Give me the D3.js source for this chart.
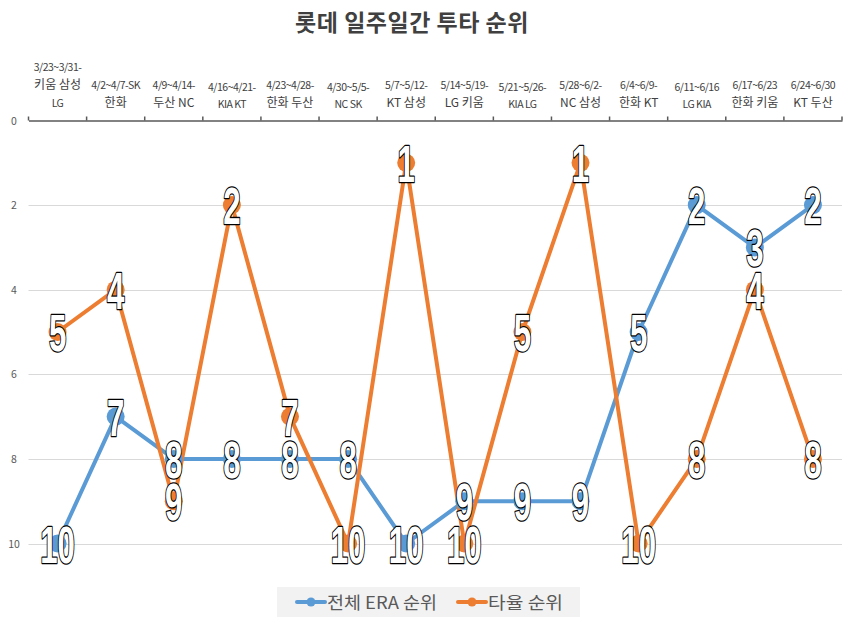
<!DOCTYPE html>
<html>
<head>
<meta charset="utf-8">
<script src="https://cdn.jsdelivr.net/npm/d3@7"></script>
<style>
  html, body { margin: 0; padding: 0; background: #fff; }
  svg { display: block; }
</style>
</head>
<body>
<svg id="chart" width="850" height="622"></svg>
<script>
const title = "롯데 일주일간 투타 순위";
const categories = [
  ["3/23~3/31-", "키움 삼성", "LG"],
  ["4/2~4/7-SK", "한화"],
  ["4/9~4/14-", "두산 NC"],
  ["4/16~4/21-", "KIA KT"],
  ["4/23~4/28-", "한화 두산"],
  ["4/30~5/5-", "NC SK"],
  ["5/7~5/12-", "KT 삼성"],
  ["5/14~5/19-", "LG 키움"],
  ["5/21~5/26-", "KIA LG"],
  ["5/28~6/2-", "NC 삼성"],
  ["6/4~6/9-", "한화 KT"],
  ["6/11~6/16", "LG KIA"],
  ["6/17~6/23", "한화 키움"],
  ["6/24~6/30", "KT 두산"]
];
const seriesNames = ["전체 ERA 순위", "타율 순위"];
const eraRank = [10, 7, 8, 8, 8, 8, 10, 9, 9, 9, 5, 2, 3, 2];
const battingRank = [5, 4, 9, 2, 7, 10, 1, 10, 5, 1, 10, 8, 4, 8];
const yTicks = [0, 2, 4, 6, 8, 10];
const colors = ["#5B9BD5", "#ED7D31"];

(function () {
const svg = d3.select("#chart");
const pLeft = 28.5, pRight = 842, pTop = 120.5, pBottom = 543.5;

const x = d3.scaleBand().domain(d3.range(categories.length)).range([pLeft, pRight]).paddingInner(0).paddingOuter(0);
const y = d3.scaleLinear().domain([0, 10]).range([pTop, pBottom]);

// title
svg.append("text")
  .attr("x", 412).attr("y", 31)
  .attr("text-anchor", "middle")
  .attr("font-family", "'Noto Sans CJK KR', sans-serif")
  .attr("font-weight", "bold")
  .attr("font-size", 23)
  .attr("letter-spacing", 0.5)
  .attr("fill", "#404040")
  .text(title);

// gridlines
svg.append("g").selectAll("line")
  .data(yTicks.filter(d => d !== 0))
  .join("line")
  .attr("x1", pLeft).attr("x2", pRight)
  .attr("y1", d => Math.round(y(d)) + 0.5).attr("y2", d => Math.round(y(d)) + 0.5)
  .attr("stroke", "#d9d9d9").attr("stroke-width", 1);

// y labels
svg.append("g").selectAll("text")
  .data(yTicks)
  .join("text")
  .attr("x", 14).attr("y", d => y(d) + 4)
  .attr("text-anchor", "middle")
  .attr("font-family", "'Noto Sans CJK KR', sans-serif")
  .attr("font-size", 10.5)
  .attr("fill", "#595959")
  .text(d => d);

// top axis
const axis = d3.axisTop(x).tickSize(0).tickFormat("");
const ag = svg.append("g").attr("transform", `translate(0,${pTop})`).call(axis);
ag.select(".domain").attr("stroke", "#595959").attr("stroke-width", 1.5);
const bounds = d3.range(categories.length + 1).map(i => i < categories.length ? x(i) : pRight);
ag.selectAll(".bt").data(bounds).join("line")
  .attr("class", "bt")
  .attr("x1", d => d).attr("x2", d => d)
  .attr("y1", 0).attr("y2", -4)
  .attr("stroke", "#595959").attr("stroke-width", 1.5);

// category labels
const hasHangul = s => /[\uAC00-\uD7A3]/.test(s);
const cg = svg.append("g");
categories.forEach((lines, i) => {
  const cx = x(i) + x.bandwidth() / 2;
  let base = 107;
  const ys = [];
  for (let k = lines.length - 1; k >= 0; k--) {
    ys[k] = base;
    if (k > 0) {
      const sp = (hasHangul(lines[k]) || hasHangul(lines[k - 1])) ? 18 : 17;
      base -= sp;
    }
  }
  lines.forEach((ln, k) => {
    cg.append("text")
      .attr("x", cx).attr("y", hasHangul(ln) ? ys[k] : ys[k] + (lines.every(l => !hasHangul(l)) ? 1 : 0))
      .attr("text-anchor", "middle")
      .attr("font-family", "'Noto Sans CJK KR', sans-serif")
      .attr("font-size", hasHangul(ln) ? 12 : 10.5)
      .attr("letter-spacing", hasHangul(ln) ? 0 : -0.5)
      .attr("fill", "#404040")
      .text(ln);
  });
});

// lines and markers
const series = [eraRank, battingRank];
const line = d3.line().x((d, i) => x(i) + x.bandwidth() / 2).y(d => y(d));
series.forEach((s, si) => {
  svg.append("path").datum(s)
    .attr("d", line).attr("fill", "none")
    .attr("stroke", colors[si]).attr("stroke-width", 4)
    .attr("stroke-linejoin", "round").attr("stroke-linecap", "round");
});
series.forEach((s, si) => {
  svg.append("g").selectAll("circle").data(s).join("circle")
    .attr("cx", (d, i) => x(i) + x.bandwidth() / 2)
    .attr("cy", d => y(d))
    .attr("r", 9)
    .attr("fill", colors[si]);
});

// data labels
series.forEach((s, si) => {
  svg.append("g").selectAll("text").data(s).join("text")
    .attr("transform", (d, i) => `translate(${x(i) + x.bandwidth() / 2},${y(d) + 19}) scale(0.6,1)`)
    .attr("text-anchor", "middle")
    .attr("font-family", "'Liberation Sans Narrow', 'Liberation Sans', sans-serif")
    .attr("font-weight", "bold")
    .attr("font-size", 52)
    .attr("fill", "#ffffff")
    .attr("stroke", "#000000")
    .attr("stroke-width", 2.6)
    .attr("paint-order", "stroke")
    .attr("stroke-linejoin", "round")
    .text(d => d);
});

// legend
const lg = svg.append("g");
lg.append("rect").attr("x", 277).attr("y", 587).attr("width", 303).attr("height", 30).attr("fill", "#f2f2f2");
const legendX = [297, 458];
const legendTextW = [110, 75];
seriesNames.forEach((n, i) => {
  const lx = legendX[i];
  lg.append("line").attr("x1", lx).attr("x2", lx + 28).attr("y1", 602).attr("y2", 602)
    .attr("stroke", colors[i]).attr("stroke-width", 4).attr("stroke-linecap", "round");
  lg.append("circle").attr("cx", lx + 14).attr("cy", 602).attr("r", 4.5).attr("fill", colors[i]);
  lg.append("text").attr("x", lx + 30).attr("y", 608.5)
    .attr("font-family", "'Noto Sans CJK KR', sans-serif")
    .attr("font-size", 17)
    .attr("textLength", legendTextW[i])
    .attr("lengthAdjust", "spacingAndGlyphs")
    .attr("fill", "#595959")
    .text(n);
});
})();
</script>
</body>
</html>
